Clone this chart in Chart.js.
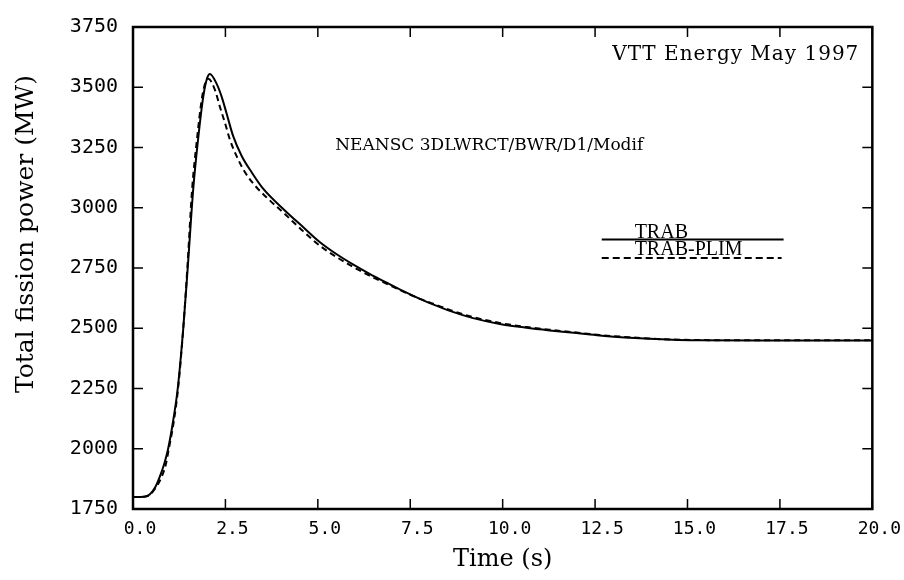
<!DOCTYPE html>
<html>
<head>
<meta charset="utf-8">
<script src="https://cdn.jsdelivr.net/npm/chart.js@4.4.1/dist/chart.umd.min.js"></script>
<style>
  html, body { margin: 0; padding: 0; background: #fff; }
  canvas { display: block; }
</style>
</head>
<body>
<canvas id="powerChart" width="904" height="580"></canvas>
<script>
// time (s) and total fission power (MW)
const trabTime = [0, 0.3, 0.45, 0.6, 0.71, 0.85, 0.95, 1.08, 1.21, 1.36, 1.48, 1.63, 1.76, 1.9, 2.0, 2.08,
    2.26, 2.4, 2.53, 2.71, 2.94, 3.21, 3.52, 4.1, 4.6, 5.05, 5.5, 5.95, 6.4, 6.85, 7.3, 7.76,
    8.2, 8.57, 9.2, 9.92, 10.6, 11.27, 12.0, 12.62, 13.3, 13.97, 14.6, 15.3, 17, 20];
const trabPower = [1800, 1801, 1810, 1840, 1878, 1940, 2000, 2110, 2250, 2500, 2750, 3079, 3283, 3460, 3535, 3555,
    3515, 3460, 3392, 3297, 3215, 3147, 3079, 2990, 2920, 2858, 2808, 2765, 2726, 2690, 2655, 2622,
    2594, 2572, 2542, 2518, 2503, 2491, 2480, 2470, 2462, 2456, 2452, 2450, 2449, 2449];

const plimTime = [0, 0.3, 0.45, 0.6, 0.75, 0.88, 0.97, 1.1, 1.22, 1.36, 1.47, 1.6, 1.73, 1.86, 1.96, 2.04,
    2.22, 2.35, 2.49, 2.62, 2.8, 3.03, 3.34, 3.6, 4.1, 4.6, 5.05, 5.5, 5.95, 6.4, 6.85, 7.3, 7.76,
    8.2, 8.57, 9.2, 9.92, 10.6, 11.27, 12.0, 12.62, 13.3, 13.97, 14.6, 15.3, 17, 20];
const plimPower = [1800, 1801, 1808, 1835, 1875, 1930, 2000, 2110, 2250, 2500, 2750, 3079, 3283, 3450, 3520, 3535,
    3487, 3419, 3351, 3283, 3215, 3147, 3085, 3045, 2975, 2903, 2843, 2796, 2755, 2718, 2685, 2653, 2622,
    2597, 2576, 2546, 2522, 2506, 2494, 2482, 2472, 2464, 2457, 2453, 2451, 2450, 2450];

const xTicks = [0, 2.5, 5, 7.5, 10, 12.5, 15, 17.5, 20];
const yTicks = [1750, 2000, 2250, 2500, 2750, 3000, 3250, 3500, 3750];

const seriesNames = ['TRAB', 'TRAB-PLIM'];

function toPoints(xs, ys) {
    return xs.map((x, i) => ({ x: x, y: ys[i] }));
}

// frame, inside ticks, notes and the hand-made legend
const framePlugin = {
    id: 'frame',
    afterDraw(chart) {
        const { ctx, chartArea, scales } = chart;
        const { left, right, top, bottom } = chartArea;
        const xs = scales.x, ys = scales.y;

        ctx.save();
        ctx.strokeStyle = '#000';
        ctx.lineWidth = 2.5;
        ctx.strokeRect(left, top, right - left, bottom - top);

        ctx.lineWidth = 1.5;
        ctx.beginPath();
        xTicks.forEach(v => {
            const px = xs.getPixelForValue(v);
            ctx.moveTo(px, bottom); ctx.lineTo(px, bottom - 10);
            ctx.moveTo(px, top); ctx.lineTo(px, top + 10);
        });
        yTicks.forEach(v => {
            const py = ys.getPixelForValue(v);
            ctx.moveTo(left, py); ctx.lineTo(left + 10, py);
            ctx.moveTo(right, py); ctx.lineTo(right - 10, py);
        });
        ctx.stroke();

        ctx.fillStyle = '#000';
        ctx.textBaseline = 'alphabetic';

        ctx.font = '20px "DejaVu Serif"';
        ctx.letterSpacing = '1px';
        ctx.textAlign = 'right';
        ctx.fillText('VTT Energy May 1997', right - 13, top + 33);
        ctx.letterSpacing = '0px';

        ctx.font = '17px "DejaVu Serif"';
        ctx.textAlign = 'left';
        ctx.fillText('NEANSC 3DLWRCT/BWR/D1/Modif', xs.getPixelForValue(5.47), ys.getPixelForValue(3240));

        // legend
        const lx0 = xs.getPixelForValue(12.68), lx1 = xs.getPixelForValue(17.6);
        const tx = xs.getPixelForValue(13.57);
        const y1 = ys.getPixelForValue(2868), y2 = ys.getPixelForValue(2791);
        ctx.lineWidth = 2;
        ctx.beginPath();
        ctx.moveTo(lx0, y1); ctx.lineTo(lx1, y1);
        ctx.stroke();
        ctx.setLineDash([7, 4]);
        ctx.beginPath();
        ctx.moveTo(lx0, y2); ctx.lineTo(lx1 - 2, y2);
        ctx.stroke();
        ctx.setLineDash([]);
        ctx.font = '20px "Liberation Serif"';
        ctx.fillText(seriesNames[0], tx, y1 - 2);
        ctx.fillText(seriesNames[1], tx, y2 - 3);

        // y axis title
        ctx.font = '25px "DejaVu Serif"';
        ctx.textAlign = 'center';
        ctx.textBaseline = 'middle';
        ctx.translate(26, 234);
        ctx.rotate(-Math.PI / 2);
        ctx.fillText('Total fission power (MW)', 0, 0);
        ctx.restore();
    }
};

const ctx = document.getElementById('powerChart').getContext('2d');

new Chart(ctx, {
    type: 'line',
    data: {
        datasets: [{
            label: seriesNames[0],
            data: toPoints(trabTime, trabPower),
            borderColor: '#000',
            borderWidth: 2,
            pointRadius: 0,
            cubicInterpolationMode: 'monotone'
        }, {
            label: seriesNames[1],
            data: toPoints(plimTime, plimPower),
            borderColor: '#000',
            borderWidth: 2,
            borderDash: [6, 4],
            pointRadius: 0,
            cubicInterpolationMode: 'monotone'
        }]
    },
    options: {
        responsive: false,
        animation: false,
        layout: { padding: { top: 19, right: 31, left: 0, bottom: 6 } },
        plugins: {
            legend: { display: false },
            tooltip: { enabled: false }
        },
        scales: {
            x: {
                type: 'linear',
                min: 0,
                max: 20,
                afterBuildTicks: scale => { scale.ticks = xTicks.map(v => ({ value: v })); },
                afterFit: scale => { scale.height = 65; },
                grid: { display: false, drawTicks: false },
                border: { display: false },
                ticks: {
                    color: '#000',
                    font: { family: '"DejaVu Sans Mono"', size: 18 },
                    padding: 10,
                    labelOffset: 7,
                    maxRotation: 0,
                    autoSkip: false,
                    callback: value => value.toFixed(1)
                },
                title: {
                    display: true,
                    text: 'Time (s)',
                    color: '#000',
                    font: { family: '"DejaVu Serif"', size: 24 },
                    padding: { top: 0, bottom: 0 }
                }
            },
            y: {
                min: 1750,
                max: 3750,
                afterBuildTicks: scale => { scale.ticks = yTicks.map(v => ({ value: v })); },
                afterFit: scale => { scale.width = 133; },
                grid: { display: false, drawTicks: false },
                border: { display: false },
                ticks: {
                    color: '#000',
                    font: { family: '"DejaVu Sans Mono"', size: 20 },
                    padding: 15,
                    autoSkip: false,
                    callback: value => String(value)
                }
            }
        }
    },
    plugins: [framePlugin]
});
</script>
</body>
</html>
